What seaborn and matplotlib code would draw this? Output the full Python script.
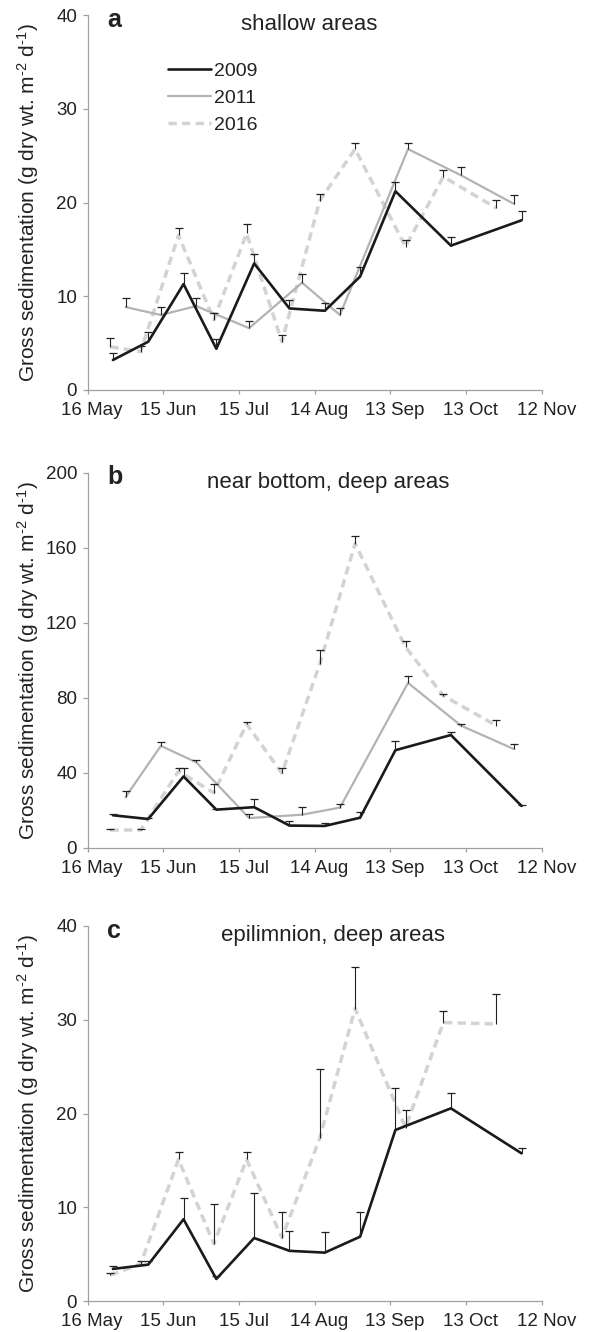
import numpy as np
import pandas as pd
import seaborn as sns
import matplotlib.pyplot as plt
from matplotlib.transforms import ScaledTranslation

# sampling days, counted from 16 May
days_2009 = [10, 24, 38, 51, 66, 80, 94, 108, 122, 144, 172]
days_2011 = [15, 29, 43, 64, 85, 100, 127, 148, 169]
days_2016 = [9, 21, 36, 50, 63, 77, 92, 106, 126, 141, 162]

# a - shallow areas
a_2009 = [3.2, 5.15, 11.3, 4.4, 13.5, 8.7, 8.45, 12.1, 21.2, 15.4, 18.1]
a_2009_se = [0.8, 1.0, 1.2, 1.0, 1.0, 0.9, 0.8, 1.0, 1.0, 0.9, 1.0]
a_2011 = [8.85, 8.0, 8.95, 6.6, 11.45, 8.0, 25.7, 22.9, 19.85]
a_2011_se = [1.0, 0.9, 0.9, 0.8, 0.9, 0.7, 0.7, 0.9, 1.0]
a_2016 = [4.6, 4.1, 16.5, 7.5, 16.7, 5.15, 20.2, 25.7, 15.3, 22.75, 19.4]
a_2016_se = [0.9, 0.6, 0.8, 0.7, 1.0, 0.7, 0.7, 0.7, 0.7, 0.7, 0.9]

# b - near bottom, deep areas
b_2009 = [17.3, 15.3, 38.0, 20.3, 21.6, 11.8, 11.6, 16.0, 52.0, 60.1, 22.3]
b_2009_se = [0.6, 0.4, 4.3, 0.4, 4.2, 2.4, 1.8, 3.2, 5.0, 1.4, 0.5]
b_2011 = [27.0, 54.3, 45.6, 15.8, 17.6, 21.4, 87.9, 65.1, 52.6]
b_2011_se = [3.0, 2.1, 1.3, 2.3, 4.1, 1.8, 3.9, 0.8, 2.7]
b_2016 = [9.4, 9.4, 40.8, 29.3, 66.0, 39.7, 98.0, 162.2, 107.0, 81.1, 65.1]
b_2016_se = [0.6, 0.6, 1.5, 4.6, 1.0, 3.0, 7.5, 3.9, 3.5, 0.9, 3.0]

# c - epilimnion, deep areas
c_2009 = [3.42, 3.88, 8.72, 2.35, 6.72, 5.35, 5.16, 6.86, 18.24, 20.55, 15.75]
c_2009_se = [0.3, 0.4, 2.3, 0.3, 4.85, 2.15, 2.24, 2.6, 4.5, 1.67, 0.53]
c_2016 = [2.76, 3.95, 15.1, 6.1, 15.1, 6.75, 17.35, 31.2, 18.5, 29.7, 29.55]
c_2016_se = [0.2, 0.3, 0.75, 4.2, 0.75, 2.7, 7.4, 4.4, 1.9, 1.25, 3.2]

tick_days = [0, 30, 60, 90, 120, 150, 180]
tick_labels = ["16 May", "15 Jun", "15 Jul", "14 Aug", "13 Sep", "13 Oct", "12 Nov"]

styles = {
    "2009": dict(color="#1a1a1a", lw=1.9, ls="-"),
    "2011": dict(color="#b3b3b3", lw=1.6, ls="-"),
    "2016": dict(color="#d3d3d3", lw=2.5, ls=(0, (2.4, 1.5))),
}
days = {"2009": days_2009, "2011": days_2011, "2016": days_2016}

panels = [
    ("a", "shallow areas", 309, 40, [10, 20, 30, 40],
     {"2009": (a_2009, a_2009_se), "2011": (a_2011, a_2011_se), "2016": (a_2016, a_2016_se)}),
    ("b", "near bottom, deep areas", 328, 200, [40, 80, 120, 160, 200],
     {"2009": (b_2009, b_2009_se), "2011": (b_2011, b_2011_se), "2016": (b_2016, b_2016_se)}),
    ("c", "epilimnion, deep areas", 333, 40, [10, 20, 30, 40],
     {"2009": (c_2009, c_2009_se), "2016": (c_2016, c_2016_se)}),
]

sns.set_style("ticks")
plt.rcParams["font.family"] = ["Liberation Sans", "DejaVu Sans"]
plt.rcParams["mathtext.fontset"] = "custom"
plt.rcParams["mathtext.rm"] = "Liberation Sans"
plt.rcParams["mathtext.it"] = "Liberation Sans"

fig = plt.figure(figsize=(5.89, 13.32), dpi=100)
W, H = 589, 1332
x0, x1 = 87.7, 541.7
tops = [15, 472.7, 926]
ax_h = 375
shift = ScaledTranslation(0.045, 0, fig.dpi_scale_trans)

for (letter, title, title_x, ymax, yticks, series), top in zip(panels, tops):
    ax = fig.add_axes([x0 / W, 1 - (top + ax_h) / H, (x1 - x0) / W, ax_h / H])
    for year in ["2016", "2011", "2009"]:
        if year not in series:
            continue
        vals, se = series[year]
        df = pd.DataFrame({"day": days[year], "value": vals})
        st = styles[year]
        sns.lineplot(data=df, x="day", y="value", ax=ax, color=st["color"],
                     linewidth=st["lw"], linestyle=st["ls"], label=year, legend=False)
    # upper-only error bars with a single cap
    for year in ["2016", "2011", "2009"]:
        if year not in series:
            continue
        vals, se = series[year]
        vals = np.array(vals)
        se = np.array(se)
        ax.errorbar(days[year], vals, yerr=[np.zeros(len(se)), se], fmt="none",
                    ecolor="#222222", elinewidth=0.8, capsize=0, zorder=5)
        ax.plot(days[year], vals + se, ls="none", marker="_", markersize=5.2,
                markeredgewidth=0.9, color="#222222", zorder=5)

    ax.set_xlim(0, 180)
    ax.set_ylim(0, ymax)
    ax.set_xticks(tick_days)
    ax.set_xticklabels(tick_labels)
    ax.set_yticks([0] + yticks)
    ax.set_xlabel("")
    ax.set_ylabel(r"Gross sedimentation (g dry wt. m$^{\text{-2}}$ d$^{\text{-1}}$)",
                  fontsize=15, color="#222222")
    ax.yaxis.set_label_coords(-0.103, 0.5)
    for side in ["top", "right"]:
        ax.spines[side].set_visible(False)
    for side in ["left", "bottom"]:
        ax.spines[side].set_color("#a0a0a0")
        ax.spines[side].set_linewidth(0.9)
    ax.tick_params(axis="both", colors="#a0a0a0", labelcolor="#222222", labelsize=13.5,
                   width=0.9)
    ax.tick_params(axis="y", length=3.6, pad=4)
    ax.tick_params(axis="x", length=3, pad=5.5)
    for lab in ax.get_xticklabels():
        lab.set_transform(lab.get_transform() + shift)

    ax.text((107.3 - x0) / (x1 - x0), (390 - 26.7) / ax_h, letter, transform=ax.transAxes,
            fontsize=18, fontweight="bold", color="#222222", va="baseline", ha="left")
    ax.text((title_x - x0) / (x1 - x0), (390 - 30) / ax_h, title, transform=ax.transAxes,
            fontsize=16, color="#222222", va="baseline", ha="center")

    if letter == "a":
        handles, labels = ax.get_legend_handles_labels()
        order = [labels.index(y) for y in ["2009", "2011", "2016"]]
        leg = ax.legend([handles[i] for i in order], [labels[i] for i in order],
                        loc="upper left", bbox_to_anchor=((168 - x0) / (x1 - x0), (390 - 62) / ax_h),
                        frameon=False, fontsize=14, handlelength=2.2, handletextpad=0.15,
                        labelspacing=0.5, borderpad=0, borderaxespad=0)
        for t in leg.get_texts():
            t.set_color("#222222")

fig.savefig("out.png", dpi=100)
